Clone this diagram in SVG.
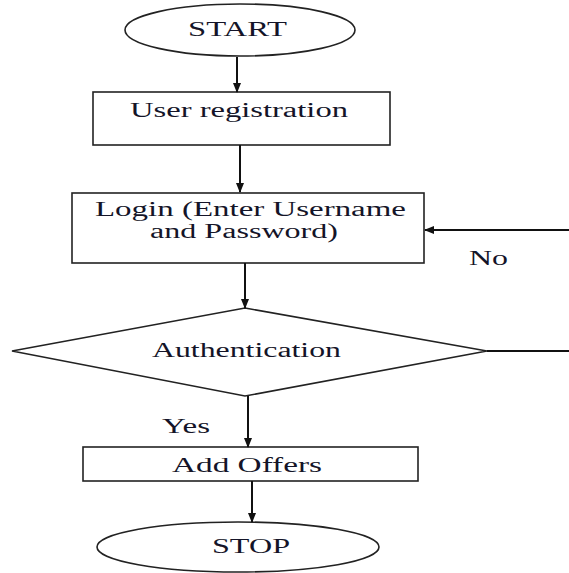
<svg xmlns="http://www.w3.org/2000/svg" width="569" height="573" viewBox="0 0 569 573">
<style>
.shape{fill:#fff;stroke:#222;stroke-width:1.6}
.conn{fill:none;stroke:#111;stroke-width:2}
text{font-family:"Liberation Serif","Times New Roman",serif;font-size:20px;fill:#141428}
</style>
<defs>
<marker id="arr" markerWidth="10" markerHeight="10" refX="9" refY="5" orient="auto" markerUnits="userSpaceOnUse">
<path d="M0,1 L10,5 L0,9 Z" fill="#111"/>
</marker>
</defs>
<rect width="569" height="573" fill="#fff"/>
<g id="start">
<ellipse class="shape" cx="240" cy="30" rx="115" ry="26"/>
<text x="188" y="36" textLength="99" lengthAdjust="spacingAndGlyphs">START</text>
</g>
<g id="registration">
<rect class="shape" x="93" y="92" width="297" height="53"/>
<text x="130" y="117" textLength="218" lengthAdjust="spacingAndGlyphs">User registration</text>
</g>
<g id="login">
<rect class="shape" x="72" y="193" width="352" height="70"/>
<text x="95" y="216" textLength="311" lengthAdjust="spacingAndGlyphs">Login (Enter Username</text>
<text x="150" y="238" textLength="188" lengthAdjust="spacingAndGlyphs">and Password)</text>
</g>
<g id="authentication">
<polygon class="shape" points="245,308 487,351 245,396 12,351"/>
<text x="152" y="357" textLength="189" lengthAdjust="spacingAndGlyphs">Authentication</text>
</g>
<g id="addoffers">
<rect class="shape" x="83" y="447" width="335" height="34"/>
<text x="172" y="472" textLength="150" lengthAdjust="spacingAndGlyphs">Add Offers</text>
</g>
<g id="stop">
<ellipse class="shape" cx="238" cy="547" rx="141" ry="25"/>
<text x="212" y="553" textLength="78" lengthAdjust="spacingAndGlyphs">STOP</text>
</g>
<g id="connectors">
<line class="conn" x1="237" y1="57" x2="237" y2="92" marker-end="url(#arr)"/>
<line class="conn" x1="240" y1="145" x2="240" y2="192" marker-end="url(#arr)"/>
<line class="conn" x1="245" y1="263" x2="245" y2="308" marker-end="url(#arr)"/>
<line class="conn" x1="248" y1="396" x2="248" y2="447" marker-end="url(#arr)"/>
<line class="conn" x1="252" y1="481" x2="252" y2="522" marker-end="url(#arr)"/>
<line class="conn" x1="487" y1="351" x2="569" y2="351"/>
<line class="conn" x1="569" y1="230" x2="425" y2="230" marker-end="url(#arr)"/>
<text x="162" y="433" textLength="48" lengthAdjust="spacingAndGlyphs">Yes</text>
<text x="469" y="265" textLength="39" lengthAdjust="spacingAndGlyphs">No</text>
</g>
</svg>
